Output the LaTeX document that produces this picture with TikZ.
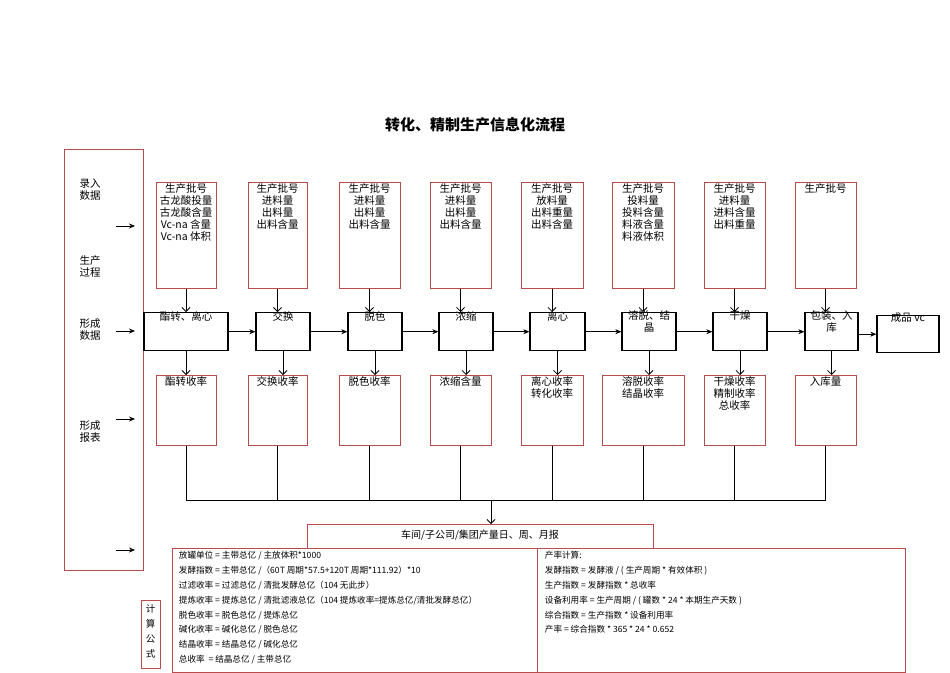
\documentclass[tikz,border=0pt]{standalone}
\usepackage{fontspec}
\setmainfont{Liberation Serif}
\newfontfamily\cjk{Noto Sans CJK SC}
\usetikzlibrary{positioning,calc,arrows.meta}
\tikzset{font=\cjk\fontsize{10.5}{12}\selectfont}

\begin{document}
\begin{tikzpicture}[x=1pt, y=-1pt]
	\useasboundingbox (0,0) rectangle (950,672);
	\tikzstyle{rbox}=[draw=red!60!black!70, line width=0.6pt, inner sep=0pt, anchor=north]
	\tikzstyle{pbox}=[draw, line width=1.4pt, inner sep=0pt, anchor=north]
	\tikzstyle{txt}=[align=center, inner sep=1pt, anchor=north]
	\tikzstyle{dn}=[-{Straight Barb[length=4pt,width=8pt]}, line width=0.8pt]
	\tikzstyle{rt}=[-{Stealth[length=6pt,width=5pt]}, line width=0.6pt]

	\node[font=\cjk\bfseries\fontsize{15}{18}\selectfont] (title) at (475,125) {转化、精制生产信息化流程};

	% left column
	\node[rbox, minimum width=79, minimum height=421] (side) at (103.5,149) {};
	\node[txt] at (90,178) {录入\\数据};
	\node[txt] at (90,254) {生产\\过程};
	\node[txt] at (90,317) {形成\\数据};
	\node[txt] at (90,419) {形成\\报表};
	\coordinate (s1) at (116,226); \coordinate (e1) at (135,226);
	\coordinate (s2) at (116,331); \coordinate (e2) at (135,331);
	\coordinate (s3) at (116,419); \coordinate (e3) at (135,419);
	\coordinate (s4) at (116,550); \coordinate (e4) at (135,550);
	\foreach \i in {1,...,4} \draw[rt] (s\i) -- (e\i);

	% input boxes
	\node[rbox, minimum width=60, minimum height=106] (in1) at (186,182) {};
	\node[rbox, minimum width=59, minimum height=106] (in2) at (277.5,182) {};
	\node[rbox, minimum width=61, minimum height=106] (in3) at (369.5,182) {};
	\node[rbox, minimum width=61, minimum height=106] (in4) at (460.5,182) {};
	\node[rbox, minimum width=62, minimum height=106] (in5) at (552,182) {};
	\node[rbox, minimum width=62, minimum height=106] (in6) at (643,182) {};
	\node[rbox, minimum width=61, minimum height=106] (in7) at (734.5,182) {};
	\node[rbox, minimum width=61, minimum height=106] (in8) at (825.5,182) {};
	\node[txt] at (in1.north) {生产批号\\古龙酸投量\\古龙酸含量\\Vc-na 含量\\Vc-na 体积};
	\node[txt] at (in2.north) {生产批号\\进料量\\出料量\\出料含量};
	\node[txt] at (in3.north) {生产批号\\进料量\\出料量\\出料含量};
	\node[txt] at (in4.north) {生产批号\\进料量\\出料量\\出料含量};
	\node[txt] at (in5.north) {生产批号\\放料量\\出料重量\\出料含量};
	\node[txt] at (in6.north) {生产批号\\投料量\\投料含量\\料液含量\\料液体积};
	\node[txt] at (in7.north) {生产批号\\进料量\\进料含量\\出料重量};
	\node[txt] at (in8.north) {生产批号};

	% process boxes
	\node[pbox, minimum width=84, minimum height=38] (p1) at (186,312) {};
	\node[pbox, minimum width=54, minimum height=38] (p2) at (283,312) {};
	\node[pbox, minimum width=54, minimum height=38] (p3) at (375,312) {};
	\node[pbox, minimum width=54, minimum height=38] (p4) at (466,312) {};
	\node[pbox, minimum width=55, minimum height=38] (p5) at (557.5,312) {};
	\node[pbox, minimum width=54, minimum height=38] (p6) at (649,312) {};
	\node[pbox, minimum width=54, minimum height=38] (p7) at (740,312) {};
	\node[pbox, minimum width=53, minimum height=38] (p8) at (831.5,312) {};
	\node[pbox, minimum width=62, minimum height=37] (p9) at (908,315) {};
	\node[txt] at ([yshift=2]p1.north) {酯转、离心};
	\node[txt] at ([yshift=2]p2.north) {交换};
	\node[txt] at ([yshift=2]p3.north) {脱色};
	\node[txt] at ([yshift=2]p4.north) {浓缩};
	\node[txt] at ([yshift=2]p5.north) {离心};
	\node[txt, text width=52, inner sep=0pt] at ([yshift=2]p6.north) {溶脱、结\\晶};
	\node[txt] at ([yshift=2]p7.north) {干燥};
	\node[txt, text width=52, inner sep=0pt] at ([yshift=2]p8.north) {包装、入\\库};
	\node[txt] at ([yshift=4]p9.north) {成品 vc};

	% output boxes
	\node[rbox, minimum width=60, minimum height=70] (out1) at (186,375) {};
	\node[rbox, minimum width=59, minimum height=70] (out2) at (277.5,375) {};
	\node[rbox, minimum width=61, minimum height=70] (out3) at (369.5,375) {};
	\node[rbox, minimum width=61, minimum height=70] (out4) at (460.5,375) {};
	\node[rbox, minimum width=62, minimum height=70] (out5) at (552,375) {};
	\node[rbox, minimum width=82, minimum height=70] (out6) at (643,375) {};
	\node[rbox, minimum width=61, minimum height=70] (out7) at (734.5,375) {};
	\node[rbox, minimum width=61, minimum height=70] (out8) at (825.5,375) {};
	\node[txt] at (out1.north) {酯转收率};
	\node[txt] at (out2.north) {交换收率};
	\node[txt] at (out3.north) {脱色收率};
	\node[txt] at (out4.north) {浓缩含量};
	\node[txt] at (out5.north) {离心收率\\转化收率};
	\node[txt] at (out6.north) {溶脱收率\\结晶收率};
	\node[txt] at (out7.north) {干燥收率\\精制收率\\总收率};
	\node[txt] at (out8.north) {入库量};

	\foreach \i in {1,...,8} {
		\draw[dn] (in\i.south) -- (in\i.south |- p\i.north);
		\draw[dn] (p\i.south |- p\i.south) -- (p\i.south |- out\i.north);
	}
	\draw[rt] (p1.east) -- (p2.west);
	\draw[rt] (p2.east) -- (p3.west);
	\draw[rt] (p3.east) -- (p4.west);
	\draw[rt] (p4.east) -- (p5.west);
	\draw[rt] (p5.east) -- (p6.west);
	\draw[rt] (p6.east) -- (p7.west);
	\draw[rt] (p7.east) -- (p8.west);
	\draw[rt] (p8.east |- p9.west) -- (p9.west);

	% collecting line
	\coordinate (bus) at (491,500);
	\foreach \i in {1,...,8} \draw[line width=0.6pt] (out\i.south) -- (out\i.south |- bus);
	\draw[line width=0.8pt] (out1.south |- bus) -- (out8.south |- bus);

	% report
	\node[rbox, minimum width=346, minimum height=24] (rep) at (480,524) {};
	\node[txt, font=\cjk\fontsize{10}{12}\selectfont] at ([yshift=-5]rep.north) {车间/子公司/集团产量日、周、月报};
	\draw[dn] (bus) -- (bus |- rep.north);

	% formulas
	\node[rbox, minimum width=365, minimum height=124] (fa) at (354.5,548) {};
	\node[rbox, minimum width=368, minimum height=124] (fb) at (721,548) {};
	\node[rbox, minimum width=19, minimum height=68] (calc) at (150.5,600) {};
	\node[txt, font=\cjk\fontsize{9.5}{15}\selectfont] at ([yshift=-3]calc.north) {计\\算\\公\\式};
	\node[align=left, anchor=north west, inner sep=0pt, font=\cjk\fontsize{8.6}{14.9}\selectfont] at ([xshift=7,yshift=-3]fa.north west)
		{放罐单位 = 主带总亿 / 主放体积*1000\\
		 发酵指数 = 主带总亿 /（60T 周期*57.5+120T 周期*111.92）*10\\
		 过滤收率 = 过滤总亿 / 清批发酵总亿（104 无此步）\\
		 提炼收率 = 提炼总亿 / 清批滤液总亿（104 提炼收率=提炼总亿/清批发酵总亿）\\
		 脱色收率 = 脱色总亿 / 提炼总亿\\
		 碱化收率 = 碱化总亿 / 脱色总亿\\
		 结晶收率 = 结晶总亿 / 碱化总亿\\
		 总收率\ \ = 结晶总亿 / 主带总亿};
	\node[align=left, anchor=north west, inner sep=0pt, font=\cjk\fontsize{8.6}{14.9}\selectfont] at ([xshift=8,yshift=-3]fb.north west)
		{产率计算:\\
		 发酵指数 = 发酵液 / ( 生产周期 * 有效体积 )\\
		 生产指数 = 发酵指数 * 总收率\\
		 设备利用率 = 生产周期 / ( 罐数 * 24 * 本期生产天数 )\\
		 综合指数 = 生产指数 * 设备利用率\\
		 产率 = 综合指数 * 365 * 24 * 0.652};
\end{tikzpicture}
\end{document}
